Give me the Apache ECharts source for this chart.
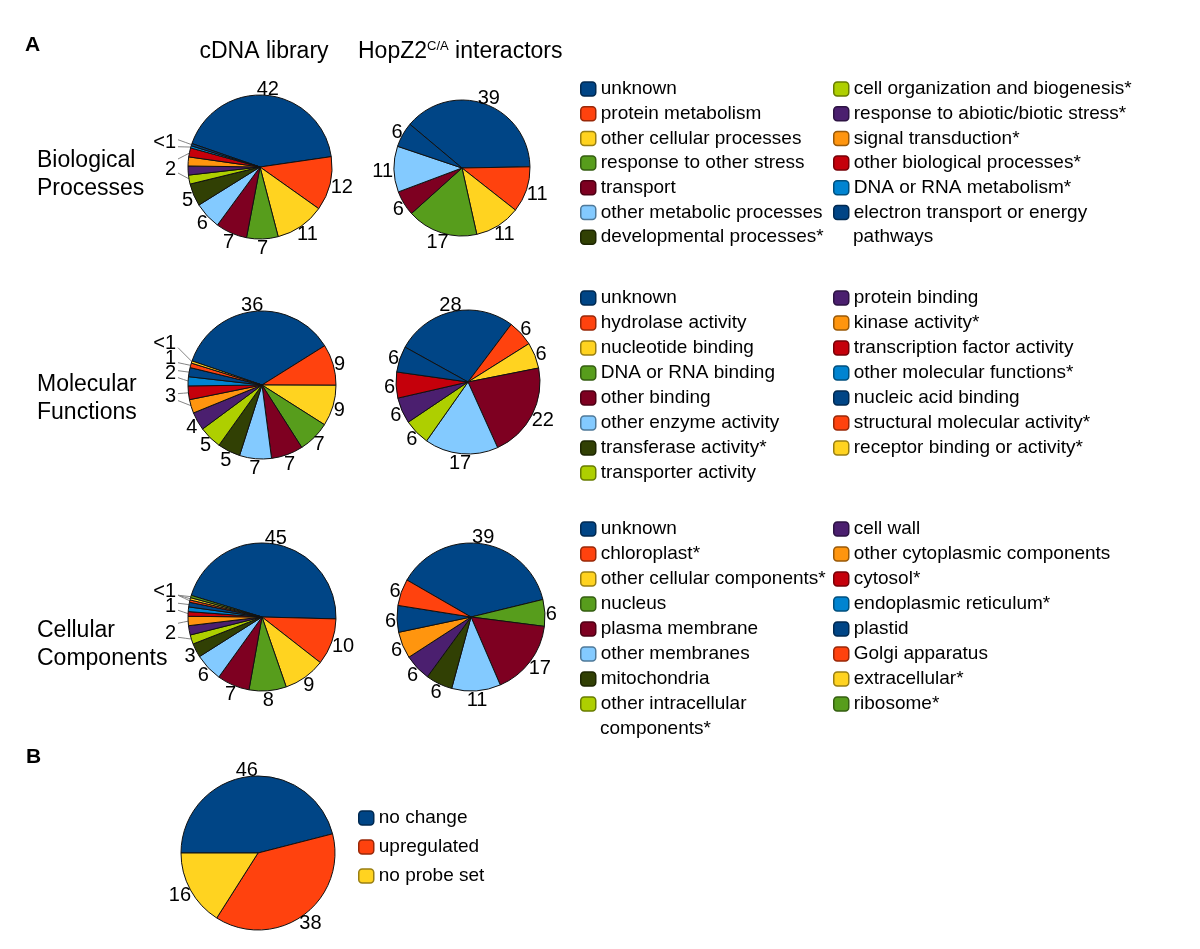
<!DOCTYPE html>
<html><head><meta charset="utf-8">
<script src="https://cdn.jsdelivr.net/npm/echarts@6/dist/echarts.min.js"></script>
<style>html,body{margin:0;padding:0;background:#fff}#c{width:1200px;height:949px}</style>
</head><body><div id="c"></div>
<script>
const FONT = "'Liberation Sans', Arial, sans-serif";
const palette = ['#004586','#ff420e','#ffd320','#579d1c','#7e0021','#83caff','#314004','#aecf00','#4b1f6f','#ff950e','#c5000b','#0084d1'];

// ---- Biological Processes ----
const bpCategories = ['unknown','protein metabolism','other cellular processes','response to other stress','transport','other metabolic processes','developmental processes*','cell organization and biogenesis*','response to abiotic/biotic stress*','signal transduction*','other biological processes*','DNA or RNA metabolism*','electron transport or energy pathways'];
const bpCdnaValues = [42,12,11,7,7,6,5,2,2,2,2,0.5,0.5];
const bpCdnaLabels = ['42','12','11','7','7','6','5','','','','2','<1',''];
const bpCdnaLeaders = [[11,12],[10,7]];
const bpHopValues  = [39,11,11,17,6,11,0,0,0,0,0,0,6];
const bpHopLabels  = ['39','11','11','17','6','11','','','','','','','6'];

// ---- Molecular Functions ----
const mfCategories = ['unknown','hydrolase activity','nucleotide binding','DNA or RNA binding','other binding','other enzyme activity','transferase activity*','transporter activity','protein binding','kinase activity*','transcription factor activity','other molecular functions*','nucleic acid binding','structural molecular activity*','receptor binding or activity*'];
const mfCdnaValues = [36,9,9,7,7,7,5,5,4,3,3,2,2,1,0.5];
const mfCdnaLabels = ['36','9','9','7','7','7','5','5','4','3','','2','','1','<1'];
const mfCdnaLeaders = [[14],[13],[11,12],[9,10]];
const mfHopValues  = [28,6,6,0,22,17,0,6,6,0,6,0,6,0,0];
const mfHopLabels  = ['28','6','6','','22','17','','6','6','','6','','6','',''];

// ---- Cellular Components ----
const ccCategories = ['unknown','chloroplast*','other cellular components*','nucleus','plasma membrane','other membranes','mitochondria','other intracellular components*','cell wall','other cytoplasmic components','cytosol*','endoplasmic reticulum*','plastid','Golgi apparatus','extracellular*','ribosome*'];
const ccCdnaValues = [45,10,9,8,7,6,3,2,2,2,1,1,1,0.5,0.5,0.5];
const ccCdnaLabels = ['45','10','9','8','7','6','3','2','','','1','','','<1','',''];
const ccCdnaLeaders = [[13,14,15],[10,12],[7,9]];
const ccHopValues  = [39,0,0,6,17,11,6,0,6,6,0,0,6,6,0,0];
const ccHopLabels  = ['39','','','6','17','11','6','','6','6','','','6','6','',''];

// ---- B ----
const bCategories = ['no change','upregulated','no probe set'];
const bValues = [46,38,16];
const bLabels = ['46','38','16'];

const columnTitles = ['cDNA library', 'HopZ2{sup|C/A} interactors'];
const rowTitles = ['Biological\nProcesses', 'Molecular\nFunctions', 'Cellular\nComponents'];
const wrapMap = {
  'electron transport or energy pathways': ['electron transport or energy', 'pathways'],
  'other intracellular components*': ['other intracellular', 'components*']
};

function darker(hex, f) {
  const n = parseInt(hex.slice(1), 16);
  const r = Math.round(((n >> 16) & 255) * f), g = Math.round(((n >> 8) & 255) * f), b = Math.round((n & 255) * f);
  return 'rgb(' + r + ',' + g + ',' + b + ')';
}

function pieSeries(categories, values, labels, center, radius, startAngle, groups) {
  groups = groups || [];
  const items = [];
  values.forEach((v, i) => { if (v > 0) items.push(i); });
  const sum = items.reduce((s, i) => s + values[i], 0);
  const mid = {};
  let cum = 0;
  items.forEach(i => { mid[i] = startAngle - 360 * (cum + values[i] / 2) / sum; cum += values[i]; });
  const edge = (i, rr) => {
    const a = mid[i] * Math.PI / 180;
    return [center[0] + rr * Math.cos(a), center[1] - rr * Math.sin(a)];
  };
  // leader label placement: left of the pie, stacked upward without overlap
  const glay = groups.map(g => {
    const ys = g.map(i => edge(i, radius)[1]);
    const span = Math.max.apply(null, ys) - Math.min.apply(null, ys);
    const meanY = ys.reduce((s, y) => s + y, 0) / ys.length;
    return { g: g, y: meanY - (span > 17 ? 0 : 6) };
  });
  glay.sort((a, b) => b.y - a.y);
  for (let k = 1; k < glay.length; k++) if (glay[k].y > glay[k - 1].y - 15) glay[k].y = glay[k - 1].y - 15;
  const rightX = center[0] - radius - 12;
  const leader = {};
  glay.forEach(gl => {
    gl.g.forEach((i, k) => {
      const e = edge(i, radius - 1);
      let cy = gl.y;
      if (e[1] < gl.y - 6) cy = gl.y - 7; else if (e[1] > gl.y + 6) cy = gl.y + 7;
      const conn = [rightX + 2, cy];
      leader[i] = { host: k === 0, x: rightX, y: gl.y + 3,
        pts: [e, [(e[0] + conn[0]) / 2, (e[1] + conn[1]) / 2], conn] };
    });
  });

  const data = items.map(i => {
    const L = leader[i];
    const txt = L ? (L.host ? labels[i] : ' ') : labels[i];
    return {
      name: categories[i], value: values[i], txt: txt,
      itemStyle: { color: palette[i % palette.length] },
      label: { show: txt !== '' },
      labelLine: L ? { show: true, length: 6, length2: 4, lineStyle: { color: '#858585', width: 1 } }
                   : { show: false, length: 2, length2: 0 }
    };
  });
  return {
    type: 'pie', center: center, radius: radius, startAngle: startAngle, clockwise: true,
    data: data, animation: false, silent: true, avoidLabelOverlap: false,
    label: { position: 'outside', fontSize: 20, color: '#000', fontFamily: FONT, distanceToLabelLine: 3,
             formatter: p => p.data.txt },
    labelLayout: function (p) {
      const i = items[p.dataIndex];
      if (i == null) return {};
      const L = leader[i];
      if (L) {
        return { x: L.x, y: L.y, align: 'right', verticalAlign: 'middle', labelLinePoints: L.pts };
      }
      const a = mid[i] * Math.PI / 180;
      const ux = Math.cos(a), uy = -Math.sin(a);
      const w = p.labelRect.width, h = 14;
      const ax = center[0] + (radius + 1) * ux;
      const ay = center[1] + (radius + 1) * uy;
      return { x: ax + ux * w / 2, y: ay + uy * h / 2 + 2, align: 'center', verticalAlign: 'middle' };
    },
    itemStyle: { borderColor: '#111', borderWidth: 1 },
    emphasis: { disabled: true }
  };
}

const LEG_LH = 20;
function legendCol(categories, names, left, top, gap) {
  return {
    orient: 'vertical', left: left, top: top, itemGap: gap, itemWidth: 15, itemHeight: 14,
    icon: 'roundRect', selectedMode: false, padding: 0,
    data: names.map(n => {
      const c = palette[categories.indexOf(n) % palette.length];
      return { name: n, itemStyle: { color: c, borderColor: darker(c, 0.6), borderWidth: 1.5 } };
    }),
    formatter: n => wrapMap[n] ? wrapMap[n][0] : n,
    textStyle: { fontSize: 19, fontFamily: FONT, color: '#000', lineHeight: LEG_LH }
  };
}

const legendSpecs = [
  { cats: bpCategories, split: 7, top: 79, gap: 4.7, x1: 580, x2: 833 },
  { cats: mfCategories, split: 8, top: 288, gap: 5, x1: 580, x2: 833 },
  { cats: ccCategories, split: 8, top: 519, gap: 5, x1: 580, x2: 833 }
];
const legends = [];
const graphics = [];
legendSpecs.forEach(s => {
  const cols = [s.cats.slice(0, s.split), s.cats.slice(s.split)];
  cols.forEach((names, ci) => {
    const left = ci === 0 ? s.x1 : s.x2;
    legends.push(legendCol(s.cats, names, left, s.top, s.gap));
    names.forEach((n, k) => {
      if (wrapMap[n]) {
        graphics.push({ type: 'text', x: left + 20, y: s.top + (k + 1) * (LEG_LH + s.gap) + LEG_LH / 2,
          style: { text: wrapMap[n][1], font: '19px ' + FONT, fill: '#000', verticalAlign: 'middle', align: 'left' } });
      }
    });
  });
});
legends.push(legendCol(bCategories, bCategories, 358, 808, 9));

// titles
graphics.push({ type: 'text', x: 25, y: 45, style: { text: 'A', font: 'bold 21px ' + FONT, fill: '#000', verticalAlign: 'middle' } });
graphics.push({ type: 'text', x: 26, y: 757, style: { text: 'B', font: 'bold 21px ' + FONT, fill: '#000', verticalAlign: 'middle' } });
graphics.push({ type: 'text', x: 264, y: 52, style: { text: columnTitles[0], font: '23px ' + FONT, fill: '#000', align: 'center', verticalAlign: 'middle' } });
graphics.push({ type: 'text', x: 358, y: 52, style: { text: columnTitles[1], fill: '#000', align: 'left', verticalAlign: 'middle',
  fontSize: 23, fontFamily: FONT, lineHeight: 28,
  rich: { sup: { fontSize: 13, fontFamily: FONT, verticalAlign: 'top', lineHeight: 28, padding: [2, 0, 0, 0] } } } });
const rowY = [175, 399, 645];
rowTitles.forEach((t, i) => {
  graphics.push({ type: 'text', x: 37, y: rowY[i], style: { text: t, font: '23px ' + FONT, fill: '#000', lineHeight: 28, align: 'left', verticalAlign: 'middle' } });
});

const series = [
  pieSeries(bpCategories, bpCdnaValues, bpCdnaLabels, [260, 167], 72, 161, bpCdnaLeaders),
  pieSeries(bpCategories, bpHopValues, bpHopLabels, [462, 168], 68, 140),
  pieSeries(mfCategories, mfCdnaValues, mfCdnaLabels, [262, 385], 74, 161, mfCdnaLeaders),
  pieSeries(mfCategories, mfHopValues, mfHopLabels, [468, 382], 72, 151),
  pieSeries(ccCategories, ccCdnaValues, ccCdnaLabels, [262, 617], 74, 163, ccCdnaLeaders),
  pieSeries(ccCategories, ccHopValues, ccHopLabels, [471, 617], 74, 150),
  pieSeries(bCategories, bValues, bLabels, [258, 853], 77, 180)
];

const chart = echarts.init(document.getElementById('c'), null, { renderer: 'canvas', width: 1200, height: 949 });
chart.setOption({
  backgroundColor: '#fff',
  animation: false,
  legend: legends,
  series: series,
  graphic: graphics
});
</script></body></html>
